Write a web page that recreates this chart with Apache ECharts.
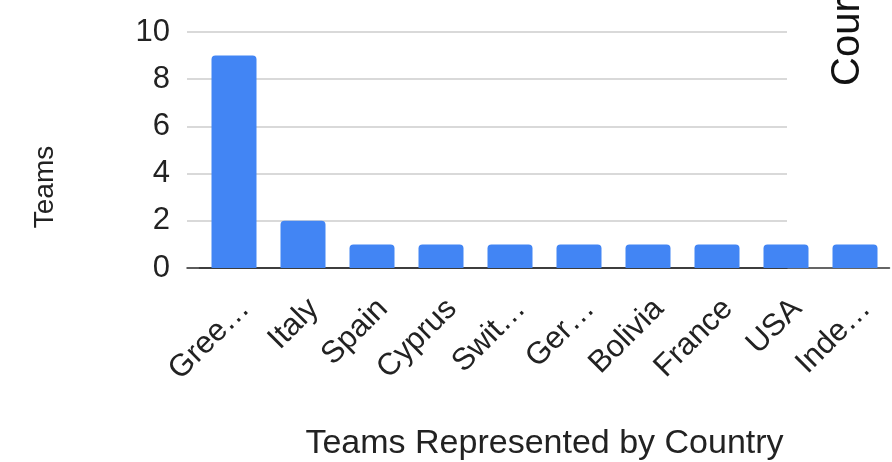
<!DOCTYPE html>
<html>
<head>
<meta charset="utf-8">
<script src="https://cdn.jsdelivr.net/npm/echarts@6/dist/echarts.min.js"></script>
<style>
html,body{margin:0;padding:0;background:#fff;}
#c{width:892px;height:462px;}
</style>
</head>
<body>
<div id="c"></div>
<script>
const categories = ["Gree\u2026", "Italy", "Spain", "Cyprus", "Swit\u2026", "Ger\u2026", "Bolivia", "France", "USA", "Inde\u2026"];
const teams = [9, 2, 1, 1, 1, 1, 1, 1, 1, 1];
const yTicks = { min: 0, max: 10, interval: 2 };
const xAxisTitle = "Teams Represented by Country";
const yAxisTitle = "Teams";
const sideText = "Cour";

const FONT = "Liberation Sans, Arial, sans-serif";
const chart = echarts.init(document.getElementById('c'), null, { renderer: 'canvas' });
chart.setOption({
  animation: false,
  backgroundColor: '#ffffff',
  grid: [
    { left: 187, right: 105, top: 32, bottom: 194, containLabel: false, outerBoundsMode: 'none' },
    { left: 199.5, right: 2.5, top: 32, bottom: 194, containLabel: false, outerBoundsMode: 'none' }
  ],
  xAxis: [
    {
      gridIndex: 0, type: 'category', data: categories,
      axisLine: { show: true, lineStyle: { color: '#333', width: 1.5 } },
      axisTick: { show: false }, axisLabel: { show: false }, splitLine: { show: false }
    },
    {
      gridIndex: 1, type: 'category', data: categories,
      axisLine: { show: true, lineStyle: { color: '#333', width: 1.5 } },
      axisTick: { show: false },
      axisLabel: { rotate: 45, margin: 25, fontSize: 31, color: '#222', fontFamily: FONT, interval: 0, verticalAlign: 'top' },
      name: xAxisTitle, nameLocation: 'middle', nameGap: 176,
      nameTextStyle: { fontSize: 34, color: '#222', fontFamily: FONT, verticalAlign: 'middle' }
    }
  ],
  yAxis: [
    {
      gridIndex: 0, type: 'value', min: yTicks.min, max: yTicks.max, interval: yTicks.interval,
      axisLine: { show: false }, axisTick: { show: false },
      axisLabel: { fontSize: 31, color: '#222', fontFamily: FONT, margin: 17 },
      splitLine: { show: true, lineStyle: { color: '#cccccc', width: 1.5 } }
    },
    {
      gridIndex: 1, type: 'value', min: yTicks.min, max: yTicks.max, interval: yTicks.interval,
      show: false, splitLine: { show: false }
    }
  ],
  series: [{
    type: 'bar', xAxisIndex: 1, yAxisIndex: 1, data: teams,
    barWidth: 45,
    itemStyle: { color: '#4285F4', borderRadius: [4, 4, 0, 0] }
  }],
  graphic: [
    {
      type: 'text', x: 45, y: 187, rotation: Math.PI / 2,
      style: { text: yAxisTitle, fill: '#222', font: '28px ' + FONT, textAlign: 'center', textVerticalAlign: 'middle' }
    },
    {
      type: 'text', x: 848, y: 86, rotation: Math.PI / 2,
      style: { text: sideText, fill: '#111', font: '40px ' + FONT, textAlign: 'left', textVerticalAlign: 'middle' }
    }
  ]
});
</script>
</body>
</html>
